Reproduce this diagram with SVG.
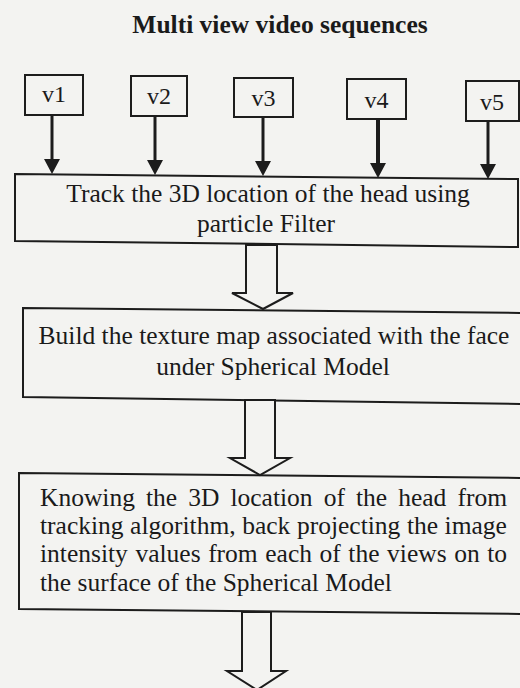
<svg xmlns="http://www.w3.org/2000/svg" width="520" height="688" viewBox="0 0 520 688">
  <style>
    .bg { fill: #f3f3f1; }
    .box { fill: none; stroke: #1c1c1c; stroke-width: 2; }
    .t { font-family: "Liberation Serif", "Times New Roman", serif; font-size: 25.5px; fill: #1a1a1a; }
    .c { text-anchor: middle; }
    .title { font-weight: bold; }
    .v { font-size: 24px; }
    .shaft { stroke: #1c1c1c; stroke-width: 3; fill: none; marker-end: url(#head); }
    .hollow { fill: #f3f3f1; stroke: #1c1c1c; stroke-width: 2; stroke-linejoin: miter; }
  </style>
  <defs>
    <marker id="head" markerUnits="userSpaceOnUse" markerWidth="16" markerHeight="17" refX="5" refY="8" orient="auto">
      <path d="M0,0 L15,8 L0,16 z" fill="#1c1c1c"/>
    </marker>
  </defs>
  <rect class="bg" x="0" y="0" width="520" height="688"/>

  <g id="title">
    <text class="t c title" x="280" y="33">Multi view video sequences</text>
  </g>

  <g id="v1"><rect class="box" x="25" y="75" width="58" height="40"/><text class="t c v" x="54" y="102">v1</text></g>
  <g id="v2"><rect class="box" x="131" y="76" width="56" height="40"/><text class="t c v" x="159" y="104">v2</text></g>
  <g id="v3"><rect class="box" x="234" y="78" width="59" height="39"/><text class="t c v" x="263.5" y="106">v3</text></g>
  <g id="v4"><rect class="box" x="347" y="79" width="59" height="40"/><text class="t c v" x="376.5" y="108">v4</text></g>
  <g id="v5"><rect class="box" x="466" y="81" width="53" height="40"/><text class="t c v" x="492" y="110">v5</text></g>

  <g id="track">
    <polygon class="box" points="15,174 518,179 518,247 15,241"/>
    <text class="t c" x="268" y="202">Track the 3D location of the head using</text>
    <text class="t c" x="266" y="232">particle Filter</text>
  </g>

  <g id="texture">
    <polygon class="box" points="23,308 523,313 523,404 23,397"/>
    <text class="t c" x="274" y="344">Build the texture map associated with the face</text>
    <text class="t c" x="273" y="375">under Spherical Model</text>
  </g>

  <g id="backproject">
    <polygon class="box" points="19,473 523,478 523,614 19,609"/>
    <text class="t" x="40" y="506" word-spacing="4.7">Knowing the 3D location of the head from</text>
    <text class="t" x="40" y="534" word-spacing="0.2">tracking algorithm, back projecting the image</text>
    <text class="t" x="40" y="562" word-spacing="1.2">intensity values from each of the views on to</text>
    <text class="t" x="40" y="591">the surface of the Spherical Model</text>
  </g>

  <g id="connectors">
    <line class="shaft" x1="52" y1="115" x2="52" y2="164"/>
    <line class="shaft" x1="155" y1="116" x2="155" y2="165"/>
    <line class="shaft" x1="263" y1="117" x2="263" y2="166"/>
    <line class="shaft" x1="378" y1="119" x2="378" y2="168" style="stroke-width:4"/>
    <line class="shaft" x1="488" y1="121" x2="488" y2="169"/>
    <polygon class="hollow" points="246,245 246,293 232,293 263,309 293,293 277,293 277,245"/>
    <polygon class="hollow" points="245,400 245,458 230,458 260,475 290,458 275,458 275,400"/>
    <polygon class="hollow" points="242,612 242,671 227,671 257,690 286,671 271,671 271,612"/>
  </g>
</svg>
